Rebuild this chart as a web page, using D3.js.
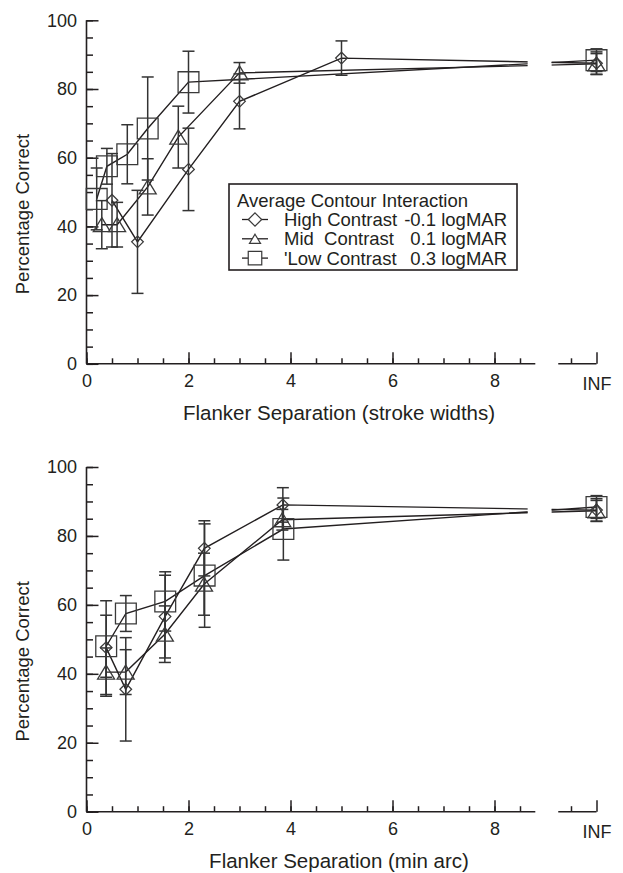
<!DOCTYPE html>
<html><head><meta charset="utf-8">
<script src="https://cdn.jsdelivr.net/npm/d3@7"></script>
<style>
body{margin:0;background:#fff}
svg{display:block}
text{font-family:"Liberation Sans",Arial,Helvetica,sans-serif;fill:#231f20}
</style>
</head><body><svg id="c" width="623" height="873"></svg>
<script>
// ---------- data ----------
const yTickValues = [0, 20, 40, 60, 80, 100];
const yMinorValues = d3.range(0, 101, 5);
const xTickValues = [0, 2, 4, 6, 8];
const xMinorValues = d3.range(0, 8.76, 0.5);
const infValue = 10;
const infLabel = "INF";

const highY      = [47.6, 35.5, 56.6, 76.4, 89.0, 87.5];
const highErr    = [13.6, 15.0, 12.0, 8.0, 5.0, 3.3];
const highStroke = [0.5, 1, 2, 3, 5, infValue];
const highArc    = [0.385, 0.77, 1.54, 2.31, 3.85, infValue];

const midY       = [40.5, 40.5, 51.5, 66.0, 84.7, 87.3];
const midErr     = [7.0, 6.5, 8.2, 9.0, 3.0, 3.0];
const midStroke  = [0.3, 0.6, 1.2, 1.8, 3, infValue];
const midArc     = [0.384, 0.768, 1.536, 2.304, 3.84, infValue];

const lowY       = [48.0, 57.5, 61.0, 68.5, 82.0, 88.4];
const lowErr     = [9.0, 5.2, 8.6, 15.0, 9.0, 3.3];
const lowStroke  = [0.2, 0.4, 0.8, 1.2, 2, infValue];
const lowArc     = [0.386, 0.772, 1.544, 2.316, 3.86, infValue];

const seriesNames  = ["High Contrast", "Mid  Contrast", "'Low Contrast"];
const seriesValues = ["-0.1 logMAR", "0.1 logMAR", "0.3 logMAR"];
const seriesShapes = ["diamond", "triangle", "square"];
const legendTitle = "Average Contour Interaction";
const yTitle = "Percentage Correct";
const xTitles = ["Flanker Separation (stroke widths)", "Flanker Separation (min arc)"];

// ---------- drawing ----------
const svg = d3.select("#c");
const ink = "#231f20";
const markInk = "#3a3a3a";
const fontFam = '"Liberation Sans",Arial,sans-serif';

function shapePath(shape, cx, cy, s) {
  if (shape === "diamond") {
    const h = 5.8 * s;
    return `M${cx},${cy - h}L${cx + h},${cy}L${cx},${cy + h}L${cx - h},${cy}Z`;
  } else if (shape === "triangle") {
    const w = 8.5 * s, h = 7 * s;
    return `M${cx},${cy - h}L${cx + w},${cy + h}L${cx - w},${cy + h}Z`;
  } else {
    const h = 10.4 * s;
    return `M${cx - h},${cy - h}H${cx + h}V${cy + h}H${cx - h}Z`;
  }
}

function panel(idx, yTop, yBottom, xs, withLegend) {
  const x = d3.scaleLinear().domain([0, 10]).range([86.5, 596.5]);
  const y = d3.scaleLinear().domain([0, 100]).range([yBottom, yTop]);
  const g = svg.append("g");

  // clip for the axis break
  const clipId = "clip" + idx;
  const cp = g.append("clipPath").attr("id", clipId);
  cp.append("rect").attr("x", 0).attr("y", 0).attr("width", x(8.65)).attr("height", 873);
  cp.append("rect").attr("x", x(9.12)).attr("y", 0).attr("width", 623 - x(9.12)).attr("height", 873);

  // y axis
  const yMinor = g.append("g").attr("transform", `translate(${x(0)},0)`)
    .call(d3.axisLeft(y).tickValues(yMinorValues).tickSize(-6.5).tickFormat(""));
  const yMajor = g.append("g").attr("transform", `translate(${x(0)},0)`)
    .call(d3.axisLeft(y).tickValues(yTickValues).tickSize(-12).tickPadding(9.5).tickFormat(d3.format("d")));
  [yMinor, yMajor].forEach(a => {
    a.select(".domain").remove();
    a.selectAll("line").attr("stroke", ink).attr("stroke-width", 1.5);
  });
  yMajor.selectAll("text").attr("font-size", 18).attr("fill", ink).style("font-family", fontFam);
  g.append("line").attr("x1", x(0)).attr("x2", x(0)).attr("y1", y(0)).attr("y2", y(100))
    .attr("stroke", ink).attr("stroke-width", 1.6);

  // x axis (two segments)
  const xMinor = g.append("g").attr("transform", `translate(0,${y(0)})`)
    .call(d3.axisBottom(x).tickValues(xMinorValues.concat([9.5])).tickSize(-5.5).tickFormat(""));
  const xMajor = g.append("g").attr("transform", `translate(0,${y(0)})`)
    .call(d3.axisBottom(x).tickValues(xTickValues.concat([infValue])).tickSize(-11.5).tickPadding(9)
      .tickFormat(d => d === infValue ? infLabel : d));
  [xMinor, xMajor].forEach(a => {
    a.select(".domain").remove();
    a.selectAll("line").attr("stroke", ink).attr("stroke-width", 1.5);
  });
  xMajor.selectAll("text").attr("font-size", 18).attr("fill", ink).style("font-family", fontFam)
    .attr("dy", d => d === infValue ? "0.95em" : "0.8em");
  g.append("line").attr("x1", x(0)).attr("x2", x(8.8)).attr("y1", y(0)).attr("y2", y(0))
    .attr("stroke", ink).attr("stroke-width", 1.6);
  g.append("line").attr("x1", x(9.25)).attr("x2", x(10)).attr("y1", y(0)).attr("y2", y(0))
    .attr("stroke", ink).attr("stroke-width", 1.6);

  // titles
  g.append("text").attr("x", 339).attr("y", y(0) + 56).attr("text-anchor", "middle")
    .attr("font-size", 20.5).text(xTitles[idx]);
  const yc = (y(0) + y(100)) / 2 + 22;
  g.append("text").attr("transform", `translate(29,${yc}) rotate(-90)`).attr("text-anchor", "middle")
    .attr("font-size", 18.5).text(yTitle);

  // series
  const series = [
    {xv: xs[0], yv: highY, ev: highErr, shape: "diamond"},
    {xv: xs[1], yv: midY, ev: midErr, shape: "triangle"},
    {xv: xs[2], yv: lowY, ev: lowErr, shape: "square"}
  ];
  const line = d3.line().x(d => x(d[0])).y(d => y(d[1]));
  series.forEach(s => {
    const pts = s.xv.map((v, i) => [v, s.yv[i], s.ev[i]]);
    g.append("path").attr("d", line(pts)).attr("fill", "none")
      .attr("stroke", ink).attr("stroke-width", 1.4).attr("clip-path", `url(#${clipId})`);
  });
  series.forEach(s => {
    const pts = s.xv.map((v, i) => [v, s.yv[i], s.ev[i]]);
    const eb = g.append("g").attr("stroke", "#333").attr("stroke-width", 1.5);
    pts.forEach(p => {
      const cx = x(p[0]);
      eb.append("line").attr("x1", cx).attr("x2", cx).attr("y1", y(p[1] - p[2])).attr("y2", y(p[1] + p[2]));
      eb.append("line").attr("x1", cx - 6).attr("x2", cx + 6).attr("y1", y(p[1] - p[2])).attr("y2", y(p[1] - p[2]));
      eb.append("line").attr("x1", cx - 6).attr("x2", cx + 6).attr("y1", y(p[1] + p[2])).attr("y2", y(p[1] + p[2]));
    });
  });
  series.forEach(s => {
    const pts = s.xv.map((v, i) => [v, s.yv[i]]);
    g.selectAll(null).data(pts).enter().append("path")
      .attr("d", d => shapePath(s.shape, x(d[0]), y(d[1]), 1))
      .attr("fill", "none").attr("stroke", markInk).attr("stroke-width", 1.3);
  });

  if (withLegend) {
    const lg = g.append("g");
    lg.append("rect").attr("x", 229).attr("y", 184).attr("width", 288).attr("height", 86)
      .attr("fill", "#fff").attr("stroke", ink).attr("stroke-width", 1.6);
    lg.append("text").attr("x", 237).attr("y", 206.5).attr("font-size", 18.5).text(legendTitle);
    seriesNames.forEach((n, i) => {
      const by = 226 + i * 19.3;
      const cy = by - 6.5;
      lg.append("line").attr("x1", 242).attr("x2", 268).attr("y1", cy).attr("y2", cy)
        .attr("stroke", ink).attr("stroke-width", 1.3);
      lg.append("path").attr("d", shapePath(seriesShapes[i], 255, cy, i === 0 ? 1.15 : 0.65))
        .attr("fill", "#fff").attr("stroke", markInk).attr("stroke-width", 1.2);
      lg.append("text").attr("x", 284).attr("y", by).attr("font-size", 18.5)
        .style("white-space", "pre").attr("xml:space", "preserve").text(n);
      lg.append("text").attr("x", 507).attr("y", by).attr("font-size", 18.5)
        .attr("text-anchor", "end").text(seriesValues[i]);
    });
  }
}

panel(0, 20.3, 363.8, [highStroke, midStroke, lowStroke], true);
panel(1, 467, 811.7, [highArc, midArc, lowArc], false);
</script>
</body></html>
